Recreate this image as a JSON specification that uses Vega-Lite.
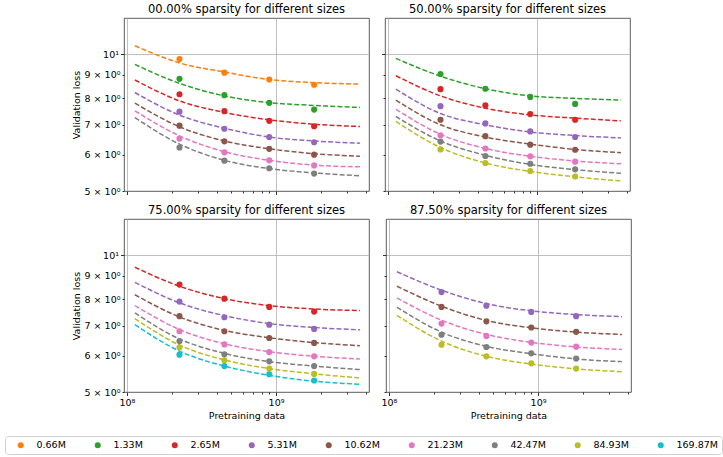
{
  "$schema": "https://vega.github.io/schema/vega-lite/v6.json",
  "padding": {"left": 4, "top": 3, "right": 0, "bottom": 0},
  "datasets": {
    "points": [
      {"panel": "0", "size": "0.66M", "tokens": 225000000, "loss": 9.75},
      {"panel": "0", "size": "0.66M", "tokens": 450000000, "loss": 9.10},
      {"panel": "0", "size": "0.66M", "tokens": 900000000, "loss": 8.79},
      {"panel": "0", "size": "0.66M", "tokens": 1800000000, "loss": 8.56},
      {"panel": "0", "size": "1.33M", "tokens": 225000000, "loss": 8.82},
      {"panel": "0", "size": "1.33M", "tokens": 450000000, "loss": 8.12},
      {"panel": "0", "size": "1.33M", "tokens": 900000000, "loss": 7.81},
      {"panel": "0", "size": "1.33M", "tokens": 1800000000, "loss": 7.55},
      {"panel": "0", "size": "2.65M", "tokens": 225000000, "loss": 8.16},
      {"panel": "0", "size": "2.65M", "tokens": 450000000, "loss": 7.49},
      {"panel": "0", "size": "2.65M", "tokens": 900000000, "loss": 7.13},
      {"panel": "0", "size": "2.65M", "tokens": 1800000000, "loss": 6.94},
      {"panel": "0", "size": "5.31M", "tokens": 225000000, "loss": 7.47},
      {"panel": "0", "size": "5.31M", "tokens": 450000000, "loss": 6.85},
      {"panel": "0", "size": "5.31M", "tokens": 900000000, "loss": 6.57},
      {"panel": "0", "size": "5.31M", "tokens": 1800000000, "loss": 6.40},
      {"panel": "0", "size": "10.62M", "tokens": 225000000, "loss": 6.96},
      {"panel": "0", "size": "10.62M", "tokens": 450000000, "loss": 6.43},
      {"panel": "0", "size": "10.62M", "tokens": 900000000, "loss": 6.19},
      {"panel": "0", "size": "10.62M", "tokens": 1800000000, "loss": 6.01},
      {"panel": "0", "size": "21.23M", "tokens": 225000000, "loss": 6.52},
      {"panel": "0", "size": "21.23M", "tokens": 450000000, "loss": 6.08},
      {"panel": "0", "size": "21.23M", "tokens": 900000000, "loss": 5.84},
      {"panel": "0", "size": "21.23M", "tokens": 1800000000, "loss": 5.69},
      {"panel": "0", "size": "42.47M", "tokens": 225000000, "loss": 6.23},
      {"panel": "0", "size": "42.47M", "tokens": 450000000, "loss": 5.83},
      {"panel": "0", "size": "42.47M", "tokens": 900000000, "loss": 5.61},
      {"panel": "0", "size": "42.47M", "tokens": 1800000000, "loss": 5.46},
      {"panel": "50", "size": "1.33M", "tokens": 225000000, "loss": 9.04},
      {"panel": "50", "size": "1.33M", "tokens": 450000000, "loss": 8.39},
      {"panel": "50", "size": "1.33M", "tokens": 900000000, "loss": 8.05},
      {"panel": "50", "size": "1.33M", "tokens": 1800000000, "loss": 7.77},
      {"panel": "50", "size": "2.65M", "tokens": 225000000, "loss": 8.37},
      {"panel": "50", "size": "2.65M", "tokens": 450000000, "loss": 7.71},
      {"panel": "50", "size": "2.65M", "tokens": 900000000, "loss": 7.38},
      {"panel": "50", "size": "2.65M", "tokens": 1800000000, "loss": 7.17},
      {"panel": "50", "size": "5.31M", "tokens": 225000000, "loss": 7.68},
      {"panel": "50", "size": "5.31M", "tokens": 450000000, "loss": 7.04},
      {"panel": "50", "size": "5.31M", "tokens": 900000000, "loss": 6.76},
      {"panel": "50", "size": "5.31M", "tokens": 1800000000, "loss": 6.57},
      {"panel": "50", "size": "10.62M", "tokens": 225000000, "loss": 7.17},
      {"panel": "50", "size": "10.62M", "tokens": 450000000, "loss": 6.60},
      {"panel": "50", "size": "10.62M", "tokens": 900000000, "loss": 6.32},
      {"panel": "50", "size": "10.62M", "tokens": 1800000000, "loss": 6.16},
      {"panel": "50", "size": "21.23M", "tokens": 225000000, "loss": 6.63},
      {"panel": "50", "size": "21.23M", "tokens": 450000000, "loss": 6.20},
      {"panel": "50", "size": "21.23M", "tokens": 900000000, "loss": 5.96},
      {"panel": "50", "size": "21.23M", "tokens": 1800000000, "loss": 5.80},
      {"panel": "50", "size": "42.47M", "tokens": 225000000, "loss": 6.42},
      {"panel": "50", "size": "42.47M", "tokens": 450000000, "loss": 5.97},
      {"panel": "50", "size": "42.47M", "tokens": 900000000, "loss": 5.74},
      {"panel": "50", "size": "42.47M", "tokens": 1800000000, "loss": 5.58},
      {"panel": "50", "size": "84.93M", "tokens": 225000000, "loss": 6.17},
      {"panel": "50", "size": "84.93M", "tokens": 450000000, "loss": 5.76},
      {"panel": "50", "size": "84.93M", "tokens": 900000000, "loss": 5.53},
      {"panel": "50", "size": "84.93M", "tokens": 1800000000, "loss": 5.38},
      {"panel": "75", "size": "2.65M", "tokens": 225000000, "loss": 8.61},
      {"panel": "75", "size": "2.65M", "tokens": 450000000, "loss": 8.02},
      {"panel": "75", "size": "2.65M", "tokens": 900000000, "loss": 7.69},
      {"panel": "75", "size": "2.65M", "tokens": 1800000000, "loss": 7.51},
      {"panel": "75", "size": "5.31M", "tokens": 225000000, "loss": 7.90},
      {"panel": "75", "size": "5.31M", "tokens": 450000000, "loss": 7.30},
      {"panel": "75", "size": "5.31M", "tokens": 900000000, "loss": 7.03},
      {"panel": "75", "size": "5.31M", "tokens": 1800000000, "loss": 6.88},
      {"panel": "75", "size": "10.62M", "tokens": 225000000, "loss": 7.34},
      {"panel": "75", "size": "10.62M", "tokens": 450000000, "loss": 6.80},
      {"panel": "75", "size": "10.62M", "tokens": 900000000, "loss": 6.57},
      {"panel": "75", "size": "10.62M", "tokens": 1800000000, "loss": 6.41},
      {"panel": "75", "size": "21.23M", "tokens": 225000000, "loss": 6.80},
      {"panel": "75", "size": "21.23M", "tokens": 450000000, "loss": 6.36},
      {"panel": "75", "size": "21.23M", "tokens": 900000000, "loss": 6.12},
      {"panel": "75", "size": "21.23M", "tokens": 1800000000, "loss": 5.99},
      {"panel": "75", "size": "42.47M", "tokens": 225000000, "loss": 6.47},
      {"panel": "75", "size": "42.47M", "tokens": 450000000, "loss": 6.05},
      {"panel": "75", "size": "42.47M", "tokens": 900000000, "loss": 5.84},
      {"panel": "75", "size": "42.47M", "tokens": 1800000000, "loss": 5.70},
      {"panel": "75", "size": "84.93M", "tokens": 225000000, "loss": 6.27},
      {"panel": "75", "size": "84.93M", "tokens": 450000000, "loss": 5.87},
      {"panel": "75", "size": "84.93M", "tokens": 900000000, "loss": 5.63},
      {"panel": "75", "size": "84.93M", "tokens": 1800000000, "loss": 5.48},
      {"panel": "75", "size": "169.87M", "tokens": 225000000, "loss": 6.04},
      {"panel": "75", "size": "169.87M", "tokens": 450000000, "loss": 5.70},
      {"panel": "75", "size": "169.87M", "tokens": 900000000, "loss": 5.47},
      {"panel": "75", "size": "169.87M", "tokens": 1800000000, "loss": 5.30},
      {"panel": "87.5", "size": "5.31M", "tokens": 225000000, "loss": 8.29},
      {"panel": "87.5", "size": "5.31M", "tokens": 450000000, "loss": 7.74},
      {"panel": "87.5", "size": "5.31M", "tokens": 900000000, "loss": 7.50},
      {"panel": "87.5", "size": "5.31M", "tokens": 1800000000, "loss": 7.34},
      {"panel": "87.5", "size": "10.62M", "tokens": 225000000, "loss": 7.69},
      {"panel": "87.5", "size": "10.62M", "tokens": 450000000, "loss": 7.15},
      {"panel": "87.5", "size": "10.62M", "tokens": 900000000, "loss": 6.93},
      {"panel": "87.5", "size": "10.62M", "tokens": 1800000000, "loss": 6.78},
      {"panel": "87.5", "size": "21.23M", "tokens": 225000000, "loss": 7.07},
      {"panel": "87.5", "size": "21.23M", "tokens": 450000000, "loss": 6.64},
      {"panel": "87.5", "size": "21.23M", "tokens": 900000000, "loss": 6.42},
      {"panel": "87.5", "size": "21.23M", "tokens": 1800000000, "loss": 6.29},
      {"panel": "87.5", "size": "42.47M", "tokens": 225000000, "loss": 6.68},
      {"panel": "87.5", "size": "42.47M", "tokens": 450000000, "loss": 6.28},
      {"panel": "87.5", "size": "42.47M", "tokens": 900000000, "loss": 6.08},
      {"panel": "87.5", "size": "42.47M", "tokens": 1800000000, "loss": 5.92},
      {"panel": "87.5", "size": "84.93M", "tokens": 225000000, "loss": 6.35},
      {"panel": "87.5", "size": "84.93M", "tokens": 450000000, "loss": 5.99},
      {"panel": "87.5", "size": "84.93M", "tokens": 900000000, "loss": 5.78},
      {"panel": "87.5", "size": "84.93M", "tokens": 1800000000, "loss": 5.63}
    ],
    "curves": [
      {"panel": "0", "size": "0.66M", "tokens": 113000000, "loss": 10.43},
      {"panel": "0", "size": "0.66M", "tokens": 225000000, "loss": 9.56},
      {"panel": "0", "size": "0.66M", "tokens": 450000000, "loss": 9.13},
      {"panel": "0", "size": "0.66M", "tokens": 900000000, "loss": 8.79},
      {"panel": "0", "size": "0.66M", "tokens": 1800000000, "loss": 8.65},
      {"panel": "0", "size": "0.66M", "tokens": 3650000000, "loss": 8.59},
      {"panel": "0", "size": "1.33M", "tokens": 113000000, "loss": 9.49},
      {"panel": "0", "size": "1.33M", "tokens": 225000000, "loss": 8.62},
      {"panel": "0", "size": "1.33M", "tokens": 450000000, "loss": 8.09},
      {"panel": "0", "size": "1.33M", "tokens": 900000000, "loss": 7.82},
      {"panel": "0", "size": "1.33M", "tokens": 1800000000, "loss": 7.71},
      {"panel": "0", "size": "1.33M", "tokens": 3650000000, "loss": 7.63},
      {"panel": "0", "size": "2.65M", "tokens": 113000000, "loss": 8.77},
      {"panel": "0", "size": "2.65M", "tokens": 225000000, "loss": 7.89},
      {"panel": "0", "size": "2.65M", "tokens": 450000000, "loss": 7.44},
      {"panel": "0", "size": "2.65M", "tokens": 900000000, "loss": 7.17},
      {"panel": "0", "size": "2.65M", "tokens": 1800000000, "loss": 7.01},
      {"panel": "0", "size": "2.65M", "tokens": 3650000000, "loss": 6.93},
      {"panel": "0", "size": "5.31M", "tokens": 113000000, "loss": 8.23},
      {"panel": "0", "size": "5.31M", "tokens": 225000000, "loss": 7.34},
      {"panel": "0", "size": "5.31M", "tokens": 450000000, "loss": 6.87},
      {"panel": "0", "size": "5.31M", "tokens": 900000000, "loss": 6.57},
      {"panel": "0", "size": "5.31M", "tokens": 1800000000, "loss": 6.44},
      {"panel": "0", "size": "5.31M", "tokens": 3650000000, "loss": 6.37},
      {"panel": "0", "size": "10.62M", "tokens": 113000000, "loss": 7.80},
      {"panel": "0", "size": "10.62M", "tokens": 225000000, "loss": 6.92},
      {"panel": "0", "size": "10.62M", "tokens": 450000000, "loss": 6.44},
      {"panel": "0", "size": "10.62M", "tokens": 900000000, "loss": 6.19},
      {"panel": "0", "size": "10.62M", "tokens": 1800000000, "loss": 6.04},
      {"panel": "0", "size": "10.62M", "tokens": 3650000000, "loss": 5.96},
      {"panel": "0", "size": "21.23M", "tokens": 113000000, "loss": 7.50},
      {"panel": "0", "size": "21.23M", "tokens": 225000000, "loss": 6.61},
      {"panel": "0", "size": "21.23M", "tokens": 450000000, "loss": 6.10},
      {"panel": "0", "size": "21.23M", "tokens": 900000000, "loss": 5.84},
      {"panel": "0", "size": "21.23M", "tokens": 1800000000, "loss": 5.70},
      {"panel": "0", "size": "21.23M", "tokens": 3650000000, "loss": 5.65},
      {"panel": "0", "size": "42.47M", "tokens": 113000000, "loss": 7.25},
      {"panel": "0", "size": "42.47M", "tokens": 225000000, "loss": 6.34},
      {"panel": "0", "size": "42.47M", "tokens": 450000000, "loss": 5.84},
      {"panel": "0", "size": "42.47M", "tokens": 900000000, "loss": 5.60},
      {"panel": "0", "size": "42.47M", "tokens": 1800000000, "loss": 5.48},
      {"panel": "0", "size": "42.47M", "tokens": 3650000000, "loss": 5.40},
      {"panel": "50", "size": "1.33M", "tokens": 113000000, "loss": 9.78},
      {"panel": "50", "size": "1.33M", "tokens": 225000000, "loss": 8.94},
      {"panel": "50", "size": "1.33M", "tokens": 450000000, "loss": 8.39},
      {"panel": "50", "size": "1.33M", "tokens": 900000000, "loss": 8.09},
      {"panel": "50", "size": "1.33M", "tokens": 1800000000, "loss": 7.99},
      {"panel": "50", "size": "1.33M", "tokens": 3650000000, "loss": 7.92},
      {"panel": "50", "size": "2.65M", "tokens": 113000000, "loss": 8.96},
      {"panel": "50", "size": "2.65M", "tokens": 225000000, "loss": 8.09},
      {"panel": "50", "size": "2.65M", "tokens": 450000000, "loss": 7.60},
      {"panel": "50", "size": "2.65M", "tokens": 900000000, "loss": 7.35},
      {"panel": "50", "size": "2.65M", "tokens": 1800000000, "loss": 7.23},
      {"panel": "50", "size": "2.65M", "tokens": 3650000000, "loss": 7.13},
      {"panel": "50", "size": "5.31M", "tokens": 113000000, "loss": 8.37},
      {"panel": "50", "size": "5.31M", "tokens": 225000000, "loss": 7.40},
      {"panel": "50", "size": "5.31M", "tokens": 450000000, "loss": 6.99},
      {"panel": "50", "size": "5.31M", "tokens": 900000000, "loss": 6.74},
      {"panel": "50", "size": "5.31M", "tokens": 1800000000, "loss": 6.62},
      {"panel": "50", "size": "5.31M", "tokens": 3650000000, "loss": 6.54},
      {"panel": "50", "size": "10.62M", "tokens": 113000000, "loss": 7.92},
      {"panel": "50", "size": "10.62M", "tokens": 225000000, "loss": 6.99},
      {"panel": "50", "size": "10.62M", "tokens": 450000000, "loss": 6.57},
      {"panel": "50", "size": "10.62M", "tokens": 900000000, "loss": 6.34},
      {"panel": "50", "size": "10.62M", "tokens": 1800000000, "loss": 6.17},
      {"panel": "50", "size": "10.62M", "tokens": 3650000000, "loss": 6.07},
      {"panel": "50", "size": "21.23M", "tokens": 113000000, "loss": 7.56},
      {"panel": "50", "size": "21.23M", "tokens": 225000000, "loss": 6.66},
      {"panel": "50", "size": "21.23M", "tokens": 450000000, "loss": 6.20},
      {"panel": "50", "size": "21.23M", "tokens": 900000000, "loss": 5.96},
      {"panel": "50", "size": "21.23M", "tokens": 1800000000, "loss": 5.82},
      {"panel": "50", "size": "21.23M", "tokens": 3650000000, "loss": 5.74},
      {"panel": "50", "size": "42.47M", "tokens": 113000000, "loss": 7.29},
      {"panel": "50", "size": "42.47M", "tokens": 225000000, "loss": 6.44},
      {"panel": "50", "size": "42.47M", "tokens": 450000000, "loss": 5.99},
      {"panel": "50", "size": "42.47M", "tokens": 900000000, "loss": 5.72},
      {"panel": "50", "size": "42.47M", "tokens": 1800000000, "loss": 5.57},
      {"panel": "50", "size": "42.47M", "tokens": 3650000000, "loss": 5.47},
      {"panel": "50", "size": "84.93M", "tokens": 113000000, "loss": 7.11},
      {"panel": "50", "size": "84.93M", "tokens": 225000000, "loss": 6.23},
      {"panel": "50", "size": "84.93M", "tokens": 450000000, "loss": 5.76},
      {"panel": "50", "size": "84.93M", "tokens": 900000000, "loss": 5.52},
      {"panel": "50", "size": "84.93M", "tokens": 1800000000, "loss": 5.37},
      {"panel": "50", "size": "84.93M", "tokens": 3650000000, "loss": 5.26},
      {"panel": "75", "size": "2.65M", "tokens": 113000000, "loss": 9.40},
      {"panel": "75", "size": "2.65M", "tokens": 225000000, "loss": 8.54},
      {"panel": "75", "size": "2.65M", "tokens": 450000000, "loss": 8.02},
      {"panel": "75", "size": "2.65M", "tokens": 900000000, "loss": 7.74},
      {"panel": "75", "size": "2.65M", "tokens": 1800000000, "loss": 7.61},
      {"panel": "75", "size": "2.65M", "tokens": 3650000000, "loss": 7.55},
      {"panel": "75", "size": "5.31M", "tokens": 113000000, "loss": 8.71},
      {"panel": "75", "size": "5.31M", "tokens": 225000000, "loss": 7.85},
      {"panel": "75", "size": "5.31M", "tokens": 450000000, "loss": 7.36},
      {"panel": "75", "size": "5.31M", "tokens": 900000000, "loss": 7.07},
      {"panel": "75", "size": "5.31M", "tokens": 1800000000, "loss": 6.93},
      {"panel": "75", "size": "5.31M", "tokens": 3650000000, "loss": 6.85},
      {"panel": "75", "size": "10.62M", "tokens": 113000000, "loss": 8.18},
      {"panel": "75", "size": "10.62M", "tokens": 225000000, "loss": 7.31},
      {"panel": "75", "size": "10.62M", "tokens": 450000000, "loss": 6.83},
      {"panel": "75", "size": "10.62M", "tokens": 900000000, "loss": 6.58},
      {"panel": "75", "size": "10.62M", "tokens": 1800000000, "loss": 6.42},
      {"panel": "75", "size": "10.62M", "tokens": 3650000000, "loss": 6.32},
      {"panel": "75", "size": "21.23M", "tokens": 113000000, "loss": 7.74},
      {"panel": "75", "size": "21.23M", "tokens": 225000000, "loss": 6.86},
      {"panel": "75", "size": "21.23M", "tokens": 450000000, "loss": 6.38},
      {"panel": "75", "size": "21.23M", "tokens": 900000000, "loss": 6.13},
      {"panel": "75", "size": "21.23M", "tokens": 1800000000, "loss": 5.99},
      {"panel": "75", "size": "21.23M", "tokens": 3650000000, "loss": 5.91},
      {"panel": "75", "size": "42.47M", "tokens": 113000000, "loss": 7.46},
      {"panel": "75", "size": "42.47M", "tokens": 225000000, "loss": 6.54},
      {"panel": "75", "size": "42.47M", "tokens": 450000000, "loss": 6.08},
      {"panel": "75", "size": "42.47M", "tokens": 900000000, "loss": 5.83},
      {"panel": "75", "size": "42.47M", "tokens": 1800000000, "loss": 5.70},
      {"panel": "75", "size": "42.47M", "tokens": 3650000000, "loss": 5.60},
      {"panel": "75", "size": "84.93M", "tokens": 113000000, "loss": 7.25},
      {"panel": "75", "size": "84.93M", "tokens": 225000000, "loss": 6.34},
      {"panel": "75", "size": "84.93M", "tokens": 450000000, "loss": 5.88},
      {"panel": "75", "size": "84.93M", "tokens": 900000000, "loss": 5.63},
      {"panel": "75", "size": "84.93M", "tokens": 1800000000, "loss": 5.48},
      {"panel": "75", "size": "84.93M", "tokens": 3650000000, "loss": 5.37},
      {"panel": "75", "size": "169.87M", "tokens": 113000000, "loss": 7.03},
      {"panel": "75", "size": "169.87M", "tokens": 225000000, "loss": 6.15},
      {"panel": "75", "size": "169.87M", "tokens": 450000000, "loss": 5.70},
      {"panel": "75", "size": "169.87M", "tokens": 900000000, "loss": 5.44},
      {"panel": "75", "size": "169.87M", "tokens": 1800000000, "loss": 5.28},
      {"panel": "75", "size": "169.87M", "tokens": 3650000000, "loss": 5.20},
      {"panel": "87.5", "size": "5.31M", "tokens": 113000000, "loss": 9.19},
      {"panel": "87.5", "size": "5.31M", "tokens": 225000000, "loss": 8.37},
      {"panel": "87.5", "size": "5.31M", "tokens": 450000000, "loss": 7.82},
      {"panel": "87.5", "size": "5.31M", "tokens": 900000000, "loss": 7.54},
      {"panel": "87.5", "size": "5.31M", "tokens": 1800000000, "loss": 7.40},
      {"panel": "87.5", "size": "5.31M", "tokens": 3650000000, "loss": 7.32},
      {"panel": "87.5", "size": "10.62M", "tokens": 113000000, "loss": 8.54},
      {"panel": "87.5", "size": "10.62M", "tokens": 225000000, "loss": 7.72},
      {"panel": "87.5", "size": "10.62M", "tokens": 450000000, "loss": 7.18},
      {"panel": "87.5", "size": "10.62M", "tokens": 900000000, "loss": 6.92},
      {"panel": "87.5", "size": "10.62M", "tokens": 1800000000, "loss": 6.77},
      {"panel": "87.5", "size": "10.62M", "tokens": 3650000000, "loss": 6.69},
      {"panel": "87.5", "size": "21.23M", "tokens": 113000000, "loss": 8.05},
      {"panel": "87.5", "size": "21.23M", "tokens": 225000000, "loss": 7.19},
      {"panel": "87.5", "size": "21.23M", "tokens": 450000000, "loss": 6.69},
      {"panel": "87.5", "size": "21.23M", "tokens": 900000000, "loss": 6.43},
      {"panel": "87.5", "size": "21.23M", "tokens": 1800000000, "loss": 6.28},
      {"panel": "87.5", "size": "21.23M", "tokens": 3650000000, "loss": 6.20},
      {"panel": "87.5", "size": "42.47M", "tokens": 113000000, "loss": 7.68},
      {"panel": "87.5", "size": "42.47M", "tokens": 225000000, "loss": 6.77},
      {"panel": "87.5", "size": "42.47M", "tokens": 450000000, "loss": 6.30},
      {"panel": "87.5", "size": "42.47M", "tokens": 900000000, "loss": 6.07},
      {"panel": "87.5", "size": "42.47M", "tokens": 1800000000, "loss": 5.91},
      {"panel": "87.5", "size": "42.47M", "tokens": 3650000000, "loss": 5.83},
      {"panel": "87.5", "size": "84.93M", "tokens": 113000000, "loss": 7.37},
      {"panel": "87.5", "size": "84.93M", "tokens": 225000000, "loss": 6.47},
      {"panel": "87.5", "size": "84.93M", "tokens": 450000000, "loss": 5.99},
      {"panel": "87.5", "size": "84.93M", "tokens": 900000000, "loss": 5.76},
      {"panel": "87.5", "size": "84.93M", "tokens": 1800000000, "loss": 5.62},
      {"panel": "87.5", "size": "84.93M", "tokens": 3650000000, "loss": 5.54}
    ]
  },
  "vconcat": [
    {
      "hconcat": [
        {
          "width": 245, "height": 173,
          "title": {"text": "00.00% sparsity for different sizes"},
          "layer": [
            {
              "data": {"name": "curves"},
              "transform": [{"filter": "datum.panel == '0'"}],
              "mark": {"type": "line", "strokeDash": [5, 2.2], "strokeWidth": 1.5, "interpolate": "monotone", "clip": true},
              "encoding": {
                "x": {"field": "tokens", "type": "quantitative", "scale": {"type": "log", "domain": [95500000, 4200000000], "nice": false},
                  "axis": {"title": null, "labels": false, "values": [100000000, 200000000, 300000000, 400000000, 500000000, 600000000, 700000000, 800000000, 900000000, 1000000000, 2000000000, 3000000000, 4000000000],
                    "tickSize": {"condition": {"test": "datum.value == 100000000 || datum.value == 1000000000", "value": 3.5}, "value": 2},
                    "gridOpacity": {"condition": {"test": "datum.value == 100000000 || datum.value == 1000000000", "value": 1}, "value": 0}}},
                "y": {"field": "loss", "type": "quantitative", "scale": {"type": "log", "domain": [5, 12], "nice": false},
                  "axis": {"title": "Validation loss", "values": [5, 6, 7, 8, 9, 10],
                    "labelExpr": "datum.value == 10 ? '10¹' : datum.value + ' × 10⁰'",
                    "tickSize": {"condition": {"test": "datum.value == 10", "value": 3.5}, "value": 2},
                    "gridOpacity": {"condition": {"test": "datum.value == 10", "value": 1}, "value": 0}}},
                "color": {"field": "size", "type": "nominal",
                  "scale": {"domain": ["0.66M", "1.33M", "2.65M", "5.31M", "10.62M", "21.23M", "42.47M", "84.93M", "169.87M"],
                    "range": ["#ff7f0e", "#2ca02c", "#d62728", "#9467bd", "#8c564b", "#e377c2", "#7f7f7f", "#bcbd22", "#17becf"]},
                  "legend": {"orient": "none", "legendX": -119, "legendY": 418, "direction": "horizontal", "columns": 9, "title": null}}
              }
            },
            {
              "data": {"name": "points"},
              "transform": [{"filter": "datum.panel == '0'"}],
              "mark": {"type": "circle", "size": 38, "opacity": 1},
              "encoding": {
                "x": {"field": "tokens", "type": "quantitative"},
                "y": {"field": "loss", "type": "quantitative"},
                "color": {"field": "size", "type": "nominal"}
              }
            }
          ]
        },
        {
          "width": 245, "height": 173,
          "title": {"text": "50.00% sparsity for different sizes"},
          "layer": [
            {
              "data": {"name": "curves"},
              "transform": [{"filter": "datum.panel == '50'"}],
              "mark": {"type": "line", "strokeDash": [5, 2.2], "strokeWidth": 1.5, "interpolate": "monotone", "clip": true},
              "encoding": {
                "x": {"field": "tokens", "type": "quantitative", "scale": {"type": "log", "domain": [95500000, 4200000000], "nice": false},
                  "axis": {"title": null, "labels": false, "values": [100000000, 200000000, 300000000, 400000000, 500000000, 600000000, 700000000, 800000000, 900000000, 1000000000, 2000000000, 3000000000, 4000000000],
                    "tickSize": {"condition": {"test": "datum.value == 100000000 || datum.value == 1000000000", "value": 3.5}, "value": 2},
                    "gridOpacity": {"condition": {"test": "datum.value == 100000000 || datum.value == 1000000000", "value": 1}, "value": 0}}},
                "y": {"field": "loss", "type": "quantitative", "scale": {"type": "log", "domain": [5, 12], "nice": false},
                  "axis": {"title": null, "labels": false, "values": [5, 6, 7, 8, 9, 10],
                    "tickSize": {"condition": {"test": "datum.value == 10", "value": 3.5}, "value": 2},
                    "gridOpacity": {"condition": {"test": "datum.value == 10", "value": 1}, "value": 0}}},
                "color": {"field": "size", "type": "nominal"}
              }
            },
            {
              "data": {"name": "points"},
              "transform": [{"filter": "datum.panel == '50'"}],
              "mark": {"type": "circle", "size": 38, "opacity": 1},
              "encoding": {
                "x": {"field": "tokens", "type": "quantitative"},
                "y": {"field": "loss", "type": "quantitative"},
                "color": {"field": "size", "type": "nominal"}
              }
            }
          ]
        }
      ],
      "spacing": 10
    },
    {
      "hconcat": [
        {
          "width": 245, "height": 173,
          "title": {"text": "75.00% sparsity for different sizes"},
          "layer": [
            {
              "data": {"name": "curves"},
              "transform": [{"filter": "datum.panel == '75'"}],
              "mark": {"type": "line", "strokeDash": [5, 2.2], "strokeWidth": 1.5, "interpolate": "monotone", "clip": true},
              "encoding": {
                "x": {"field": "tokens", "type": "quantitative", "scale": {"type": "log", "domain": [95500000, 4200000000], "nice": false},
                  "axis": {"title": "Pretraining data", "values": [100000000, 200000000, 300000000, 400000000, 500000000, 600000000, 700000000, 800000000, 900000000, 1000000000, 2000000000, 3000000000, 4000000000],
                    "labelExpr": "datum.value == 100000000 ? '10⁸' : datum.value == 1000000000 ? '10⁹' : ''",
                    "tickSize": {"condition": {"test": "datum.value == 100000000 || datum.value == 1000000000", "value": 3.5}, "value": 2},
                    "gridOpacity": {"condition": {"test": "datum.value == 100000000 || datum.value == 1000000000", "value": 1}, "value": 0}}},
                "y": {"field": "loss", "type": "quantitative", "scale": {"type": "log", "domain": [5, 12], "nice": false},
                  "axis": {"title": "Validation loss", "values": [5, 6, 7, 8, 9, 10],
                    "labelExpr": "datum.value == 10 ? '10¹' : datum.value + ' × 10⁰'",
                    "tickSize": {"condition": {"test": "datum.value == 10", "value": 3.5}, "value": 2},
                    "gridOpacity": {"condition": {"test": "datum.value == 10", "value": 1}, "value": 0}}},
                "color": {"field": "size", "type": "nominal"}
              }
            },
            {
              "data": {"name": "points"},
              "transform": [{"filter": "datum.panel == '75'"}],
              "mark": {"type": "circle", "size": 38, "opacity": 1},
              "encoding": {
                "x": {"field": "tokens", "type": "quantitative"},
                "y": {"field": "loss", "type": "quantitative"},
                "color": {"field": "size", "type": "nominal"}
              }
            }
          ]
        },
        {
          "width": 245, "height": 173,
          "title": {"text": "87.50% sparsity for different sizes"},
          "layer": [
            {
              "data": {"name": "curves"},
              "transform": [{"filter": "datum.panel == '87.5'"}],
              "mark": {"type": "line", "strokeDash": [5, 2.2], "strokeWidth": 1.5, "interpolate": "monotone", "clip": true},
              "encoding": {
                "x": {"field": "tokens", "type": "quantitative", "scale": {"type": "log", "domain": [95500000, 4200000000], "nice": false},
                  "axis": {"title": "Pretraining data", "values": [100000000, 200000000, 300000000, 400000000, 500000000, 600000000, 700000000, 800000000, 900000000, 1000000000, 2000000000, 3000000000, 4000000000],
                    "labelExpr": "datum.value == 100000000 ? '10⁸' : datum.value == 1000000000 ? '10⁹' : ''",
                    "tickSize": {"condition": {"test": "datum.value == 100000000 || datum.value == 1000000000", "value": 3.5}, "value": 2},
                    "gridOpacity": {"condition": {"test": "datum.value == 100000000 || datum.value == 1000000000", "value": 1}, "value": 0}}},
                "y": {"field": "loss", "type": "quantitative", "scale": {"type": "log", "domain": [5, 12], "nice": false},
                  "axis": {"title": null, "labels": false, "values": [5, 6, 7, 8, 9, 10],
                    "tickSize": {"condition": {"test": "datum.value == 10", "value": 3.5}, "value": 2},
                    "gridOpacity": {"condition": {"test": "datum.value == 10", "value": 1}, "value": 0}}},
                "color": {"field": "size", "type": "nominal"}
              }
            },
            {
              "data": {"name": "points"},
              "transform": [{"filter": "datum.panel == '87.5'"}],
              "mark": {"type": "circle", "size": 38, "opacity": 1},
              "encoding": {
                "x": {"field": "tokens", "type": "quantitative"},
                "y": {"field": "loss", "type": "quantitative"},
                "color": {"field": "size", "type": "nominal"}
              }
            }
          ]
        }
      ],
      "spacing": 10
    }
  ],
  "spacing": 8,
  "config": {
    "font": "DejaVu Sans",
    "view": {"stroke": "#333", "strokeWidth": 0.8},
    "title": {"fontSize": 11.5, "fontWeight": "normal", "color": "#000", "offset": 3, "anchor": "middle"},
    "axis": {
      "domain": false, "tickColor": "#000", "tickWidth": 0.8, "gridColor": "#b0b0b0", "gridWidth": 0.8,
      "labelFontSize": 9.5, "labelColor": "#000", "titleFontSize": 9.5, "titleFontWeight": "normal", "titleColor": "#000",
      "labelOverlap": false, "labelFlush": false, "labelPadding": 2, "titlePadding": 3
    },
    "legend": {
      "symbolType": "circle", "symbolSize": 36, "symbolStrokeWidth": 0, "symbolOpacity": 1, "symbolDash": [],
      "labelFontSize": 9.5, "labelColor": "#000", "labelOffset": 11, "columnPadding": 20,
      "padding": 4, "symbolOffset": 7, "strokeColor": "#d0d0d0", "cornerRadius": 3
    }
  }
}
